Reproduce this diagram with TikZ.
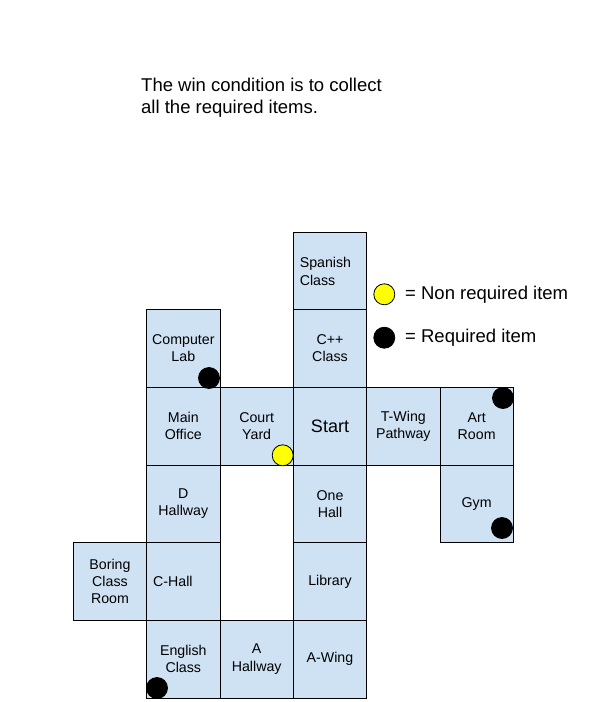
\documentclass[tikz,border=0pt]{standalone}
\usepackage{fontspec}
\setmainfont{Liberation Sans}
\definecolor{cellblue}{HTML}{CFE2F3}
\definecolor{itemyellow}{HTML}{FFFF00}
\begin{document}
\begin{tikzpicture}[x=1pt,y=-1pt,
  cell/.style={draw=black, line width=0.9pt, fill=cellblue, minimum width=73.33pt, minimum height=77.67pt, inner sep=0pt, align=center, font=\fontsize{14.2}{17.2}\selectfont},
  leftcell/.style={cell, align=left, inner xsep=6.5pt, text width=60.33pt},
  req/.style={circle, draw=black, line width=0.8pt, fill=black, minimum size=21pt, inner sep=0pt},
  nonreq/.style={circle, draw=black, line width=0.8pt, fill=itemyellow, minimum size=21pt, inner sep=0pt},
  bigtext/.style={inner sep=0pt, align=left, font=\fontsize{18.5}{22.5}\selectfont}]
\useasboundingbox (0,0) rectangle (605,702);
% row 0
\node[leftcell] (spanish) at (330,271.5) {Spanish\\Class};
% row 1
\node[cell] (computer) at (183.33,348.5) {Computer\\Lab};
\node[cell] (cpp) at (330,348.5) {C++\\Class};
% row 2
\node[cell] (main) at (183.33,426.17) {Main\\Office};
\node[cell] (court) at (256.67,426.17) {Court\\Yard};
\node[cell, font=\fontsize{18}{22}\selectfont] (start) at (330,426.17) {Start};
\node[cell] (twing) at (403.33,426.17) {T-Wing\\Pathway};
\node[cell] (art) at (476.67,426.17) {Art\\Room};
% row 3
\node[cell] (dhall) at (183.33,503.83) {D\\Hallway};
\node[cell] (onehall) at (330,503.83) {One\\Hall};
\node[cell] (gym) at (476.67,503.83) {Gym};
% row 4
\node[cell] (boring) at (110,581.5) {Boring\\Class\\Room};
\node[leftcell] (chall) at (183.33,581.5) {C-Hall};
\node[cell] (library) at (330,581.5) {Library};
% row 5
\node[cell] (english) at (183.33,659.17) {English\\Class};
\node[cell] (ahall) at (256.67,659.17) {A\\Hallway};
\node[cell] (awing) at (330,659.17) {A-Wing};
% items
\node[req] (itemcomp) at (209,378) {};
\node[nonreq] (itemcourt) at (282.7,455.3) {};
\node[req] (itemart) at (503,398) {};
\node[req] (itemgym) at (502,528) {};
\node[req] (itemeng) at (157,688) {};
% caption
\node[bigtext, anchor=west] (caption) at (141,97.5) {The win condition is to collect\\all the required items.};
% legend
\node[nonreq] (legy) at (384.3,294.3) {};
\node[bigtext, anchor=west] (legytext) at (405,294.8) {= Non required item};
\node[req] (legb) at (384.3,337.7) {};
\node[bigtext, anchor=west] (legbtext) at (405,338.2) {= Required item};
\end{tikzpicture}
\end{document}
